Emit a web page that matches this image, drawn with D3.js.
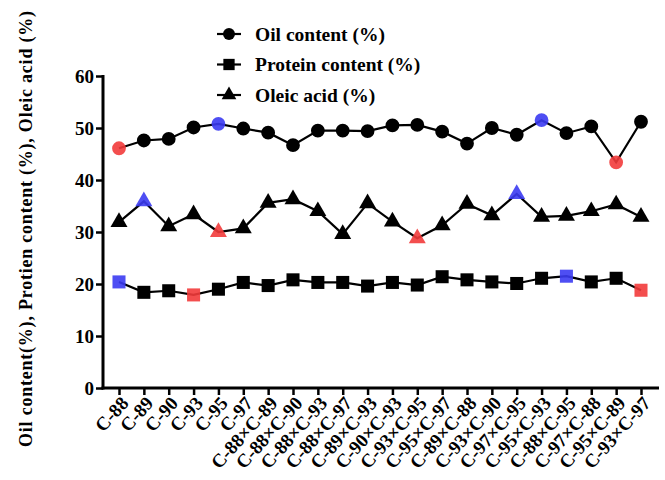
<!DOCTYPE html>
<html>
<head>
<meta charset="utf-8">
<script src="https://cdn.jsdelivr.net/npm/d3@7"></script>
<style>
  body { margin: 0; background: #fff; }
  text { font-family: "Liberation Serif", "Times New Roman", serif; font-weight: bold; }
</style>
</head>
<body>
<div id="chart"></div>
<script>
// categories: first 6 are parents, rest are crosses
var categories = ["C-88", "C-89", "C-90", "C-93", "C-95", "C-97",
    "C-88×C-89", "C-88×C-90", "C-88×C-93", "C-88×C-97", "C-89×C-93", "C-90×C-93",
    "C-93×C-95", "C-95×C-97", "C-89×C-88", "C-93×C-90", "C-97×C-95", "C-95×C-93",
    "C-88×C-95", "C-97×C-88", "C-95×C-89", "C-93×C-97"];
var parentCount = 6;

var oilValues = [46.1, 47.6, 47.9, 50.1, 50.8, 49.9, 49.1, 46.7, 49.5, 49.5, 49.4,
    50.5, 50.6, 49.3, 47.0, 50.0, 48.7, 51.5, 49.0, 50.3, 43.4, 51.2];
var proteinValues = [20.4, 18.4, 18.7, 17.9, 19.0, 20.3, 19.7, 20.8, 20.3, 20.3, 19.6,
    20.3, 19.8, 21.4, 20.8, 20.4, 20.1, 21.1, 21.5, 20.4, 21.1, 18.8];
var oleicValues = [31.9, 35.9, 31.1, 33.4, 30.0, 30.7, 35.6, 36.3, 34.0, 29.6, 35.5,
    32.0, 28.8, 31.3, 35.4, 33.2, 37.3, 32.9, 33.1, 34.0, 35.3, 32.9];

var yTicks = [0, 10, 20, 30, 40, 50, 60];

var series = [
    {name: "Oil content (%)", values: oilValues, symbol: d3.symbolCircle, size: 150},
    {name: "Protein content (%)", values: proteinValues, symbol: d3.symbolSquare, size: 170},
    {name: "Oleic acid (%)", values: oleicValues, symbol: d3.symbolTriangle, size: 125}
];

var svg = d3.select("#chart").append("svg").attr("width", 665).attr("height", 480);
svg.append("rect").attr("width", 665).attr("height", 480).attr("fill", "#fff");

var x = d3.scalePoint().domain(categories).range([119, 641]);
var y = d3.scaleLinear().domain([0, 60]).range([388, 76]);

// max in group -> blue, min in group -> red
function markColor(values, i) {
    var grp = i < parentCount ? values.slice(0, parentCount) : values.slice(parentCount);
    if (values[i] === d3.max(grp)) return "#3b3bf2";
    if (values[i] === d3.min(grp)) return "#f23b3b";
    return "#000";
}

// y axis
var yAxis = svg.append("g").attr("transform", "translate(103,0)")
    .call(d3.axisLeft(y).tickValues(yTicks).tickSize(7).tickSizeOuter(0));
yAxis.select(".domain").attr("stroke-width", 3).attr("d", "M0,75V389.5");
yAxis.selectAll(".tick line").attr("stroke-width", 2.5);
yAxis.selectAll(".tick text").attr("font-size", 19).attr("fill", "#000").attr("x", -9);

// x axis
var xAxis = svg.append("g").attr("transform", "translate(0,388)")
    .call(d3.axisBottom(x).tickSize(7).tickSizeOuter(0));
xAxis.select(".domain").attr("stroke-width", 3).attr("d", "M101.5,0H659");
xAxis.selectAll(".tick line").attr("stroke-width", 2.5);
xAxis.selectAll(".tick text").attr("font-size", 19).attr("fill", "#000")
    .attr("text-anchor", "end").attr("y", 0).attr("dy", 0)
    .attr("transform", "translate(10,16) rotate(-48)");

// lines and markers
series.forEach(function(s) {
    var line = d3.line().x((d, i) => x(categories[i])).y(d => y(d));
    svg.append("path").datum(s.values).attr("d", line)
        .attr("fill", "none").attr("stroke", "#000").attr("stroke-width", 2.2);
    svg.selectAll(null).data(s.values).enter().append("path")
        .attr("d", d3.symbol().type(s.symbol).size(s.size))
        .attr("transform", (d, i) => `translate(${x(categories[i])},${y(d)})`)
        .attr("fill", (d, i) => markColor(s.values, i))
        .attr("fill-opacity", (d, i) => markColor(s.values, i) === "#000" ? 1 : 0.9);
});

// legend
var legend = svg.append("g");
series.forEach(function(s, i) {
    var ly = 34 + i * 30.5;
    legend.append("line").attr("x1", 217).attr("x2", 241).attr("y1", ly).attr("y2", ly)
        .attr("stroke", "#000").attr("stroke-width", 2.2);
    legend.append("path").attr("d", d3.symbol().type(s.symbol).size(s.size * 0.75))
        .attr("transform", `translate(229,${ly})`).attr("fill", "#000");
    legend.append("text").attr("x", 255).attr("y", ly).attr("dy", "0.35em")
        .attr("font-size", 19.5).text(s.name);
});

// y axis title
svg.append("text").attr("transform", "translate(32,229) rotate(-90)")
    .attr("text-anchor", "middle").attr("font-size", 18)
    .attr("textLength", 436).attr("lengthAdjust", "spacing")
    .text("Oil content(%), Protien content (%), Oleic acid (%)");
</script>
</body>
</html>
